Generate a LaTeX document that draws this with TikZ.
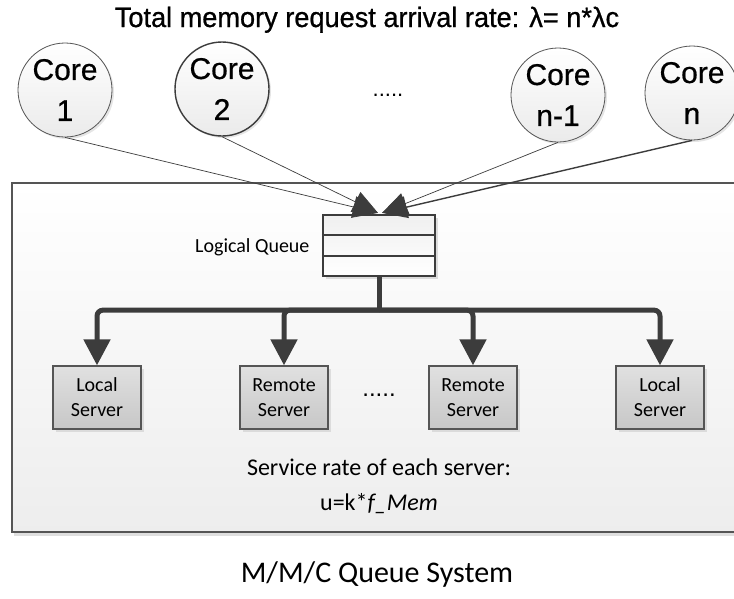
\documentclass[tikz,border=0pt]{standalone}
\usepackage{fontspec}
\setmainfont{Carlito}
\newfontfamily\arialf[FakeBold=0.6]{Liberation Sans}
\newfontfamily\plainf{Liberation Sans}
\newfontfamily\titlef[FakeStretch=0.97,FakeBold=0.8]{Liberation Sans}
\usetikzlibrary{arrows.meta,shadows,calc}
\definecolor{dk}{HTML}{3C3C3C}
\definecolor{bord}{HTML}{555555}
\begin{document}
\begin{tikzpicture}[x=1pt,y=-1pt,
  core/.style={circle, draw=bord, line width=0.8pt, minimum size=94pt, inner sep=0pt,
    top color=white, bottom color=black!8, align=center,
    font=\arialf\fontsize{30}{41}\selectfont,
    drop shadow={opacity=0.2, shadow xshift=2pt, shadow yshift=-2pt}},
  server/.style={rectangle, draw=bord, line width=1.3pt, minimum width=88pt, minimum height=63pt,
    inner sep=0pt, top color=black!12, bottom color=black!22, align=center,
    font=\fontsize{20}{25}\selectfont,
    drop shadow={opacity=0.2, shadow xshift=3pt, shadow yshift=-3pt}},
  queue/.style={rectangle, draw=dk, line width=2.2pt, minimum width=112pt, minimum height=61pt,
    inner sep=0pt, top color=black!6, bottom color=white,
    drop shadow={opacity=0.25, shadow xshift=3pt, shadow yshift=-3pt}},
  qline/.style={draw=dk, line width=2.2pt},
  coreline/.style={draw=dk, line width=0.7pt, -{Triangle[length=25pt,width=22pt]}},
  bus/.style={draw=dk, line width=5pt},
  busarrow/.style={draw=dk, line width=5pt, rounded corners=6pt, -{Triangle[length=26pt,width=26pt]}},
]
\clip (0,0) rectangle (734,598);
\fill[white] (0,0) rectangle (734,598);

% system box
\draw[draw=bord, line width=2.5pt, top color=white, bottom color=black!7,
  drop shadow={opacity=0.25, shadow xshift=2pt, shadow yshift=-4pt}] (12,183) rectangle (750,532);

% title
\node[anchor=base, font=\titlef\fontsize{28}{30}\selectfont] (title) at (367,27)
  {Total memory request arrival rate: λ= n*λc};

% cores
\node[core] (c1) at (65,90) {Core\\1};
\node[core, draw=dk, line width=1.4pt] (c2) at (222,89) {Core\\2};
\node[core] (c3) at (558,95) {Core\\n-1};
\node[core] (c4) at (692,93) {Core\\n};
\node[font=\plainf\fontsize{22}{26}\selectfont] (cdots) at (388,95) {.....};

% queue
\node[queue] (q) at (379,245.5) {};
\draw[qline] ($(q.north west)!1/3!(q.south west)$) -- ($(q.north east)!1/3!(q.south east)$);
\draw[qline] ($(q.north west)!2/3!(q.south west)$) -- ($(q.north east)!2/3!(q.south east)$);
\node[anchor=east, font=\fontsize{20}{24}\selectfont] (ql) at (313,247) {Logical Queue};

% core connectors
\draw[coreline] (c1.south) -- ([xshift=-1pt,yshift=1pt]q.north);
\draw[coreline] (c2.south) -- ([xshift=-1pt,yshift=1pt]q.north);
\draw[coreline] (c3.south) -- ([xshift=3pt,yshift=1pt]q.north);
\draw[coreline, line width=1.4pt] (c4.south) -- ([xshift=3pt,yshift=1pt]q.north);

% servers
\node[server] (s1) at (97,397.5) {Local\\Server};
\node[server] (s2) at (284,397.5) {Remote\\Server};
\node[server] (s3) at (473,397.5) {Remote\\Server};
\node[server] (s4) at (660,397.5) {Local\\Server};
\node[font=\plainf\fontsize{24}{28}\selectfont] (sdots) at (379,395) {.....};

% bus
\draw[bus] (q.south) -- ++(0,33) coordinate (j);
\foreach \s in {s1,s2,s3,s4} \draw[busarrow] (j) -| (\s.north);

% service rate
\node[anchor=base, align=center, font=\fontsize{24}{35}\selectfont] (svc) at (379,510)
  {Service rate of each server:\\u=k*\textit{f\_Mem}};

% caption
\node[anchor=base, font=\fontsize{30}{34}\selectfont] (mmc) at (377,582) {M/M/C Queue System};
\end{tikzpicture}
\end{document}
